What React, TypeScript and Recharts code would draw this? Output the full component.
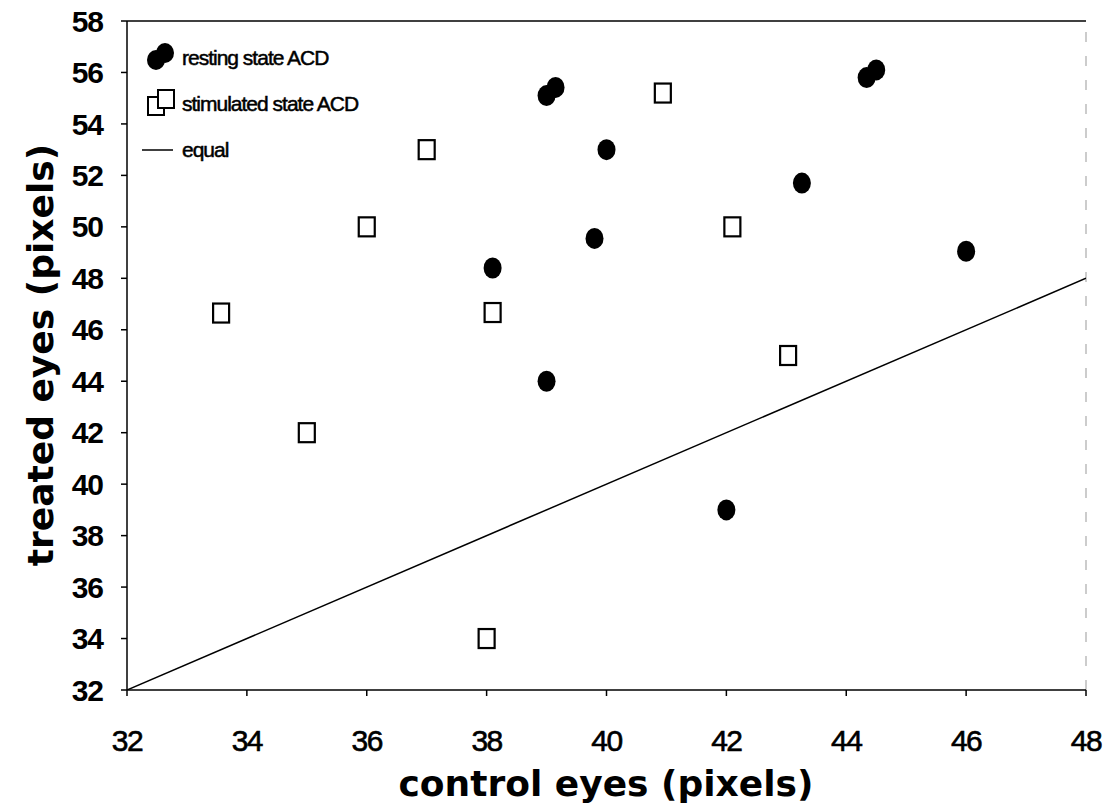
import React from 'react';
import { ScatterChart, Scatter, XAxis, YAxis, ReferenceLine, Legend, Label } from 'recharts';

// control eyes (x) / treated eyes (y), in pixels
const restingX = [39.0, 39.15, 44.34, 44.5, 40.0, 43.26, 39.8, 46.0, 38.1, 39.0, 42.0];
const restingY = [55.1, 55.42, 55.8, 56.1, 53.0, 51.7, 49.55, 49.05, 48.4, 44.0, 39.0];
const stimulatedX = [40.94, 37.0, 36.0, 42.1, 33.57, 38.1, 43.03, 35.0, 38.0];
const stimulatedY = [55.2, 53.0, 50.0, 50.0, 46.65, 46.67, 45.0, 42.0, 34.0];
const equalX = [32, 48];
const equalY = [32, 48];
const xTicks = [32, 34, 36, 38, 40, 42, 44, 46, 48];
const yTicks = [32, 34, 36, 38, 40, 42, 44, 46, 48, 50, 52, 54, 56, 58];
const seriesNames = ['resting state ACD', 'stimulated state ACD', 'equal'];

const restingData = restingX.map((x, i) => ({ x, y: restingY[i] }));
const stimulatedData = stimulatedX.map((x, i) => ({ x, y: stimulatedY[i] }));
const equalData = equalX.map((x, i) => ({ x, y: equalY[i] }));

const FONT = '"Liberation Sans", Arial, Helvetica, sans-serif';
const TITLE_FONT = '"DejaVu Sans", "Liberation Sans", sans-serif';

const Dot = (p: any) => <ellipse cx={p.cx} cy={p.cy} rx={9} ry={10.5} fill="#000" />;
const Box = (p: any) => (
  <rect x={p.cx - 8} y={p.cy - 9.5} width={16} height={19} fill="#fff" stroke="#000" strokeWidth={2.2} />
);
const NoShape = () => null;

const LegendContent = () => {
  const rowH = 46;
  const row = (marker: React.ReactNode, text: string, key: number) => (
    <div key={key} style={{ display: 'flex', alignItems: 'center', height: rowH }}>
      <svg width={44} height={rowH} style={{ display: 'block' }}>{marker}</svg>
      <span
        style={{
          fontFamily: FONT,
          fontSize: 21,
          color: '#000',
          marginLeft: 2,
          letterSpacing: -1,
          WebkitTextStroke: '0.5px #000',
        }}
      >
        {text}
      </span>
    </div>
  );
  const c = rowH / 2;
  return (
    <div>
      {row(
        <g>
          <ellipse cx={20} cy={c + 2} rx={9} ry={10} fill="#000" />
          <ellipse cx={29} cy={c - 5} rx={9} ry={10} fill="#000" />
        </g>,
        seriesNames[0],
        0
      )}
      {row(
        <g>
          <rect x={12} y={c - 7} width={16} height={18} fill="#fff" stroke="#000" strokeWidth={2} />
          <rect x={22} y={c - 14} width={16} height={18} fill="#fff" stroke="#000" strokeWidth={2} />
        </g>,
        seriesNames[1],
        1
      )}
      {row(<line x1={6} x2={37} y1={c} y2={c} stroke="#000" strokeWidth={1.5} />, seriesNames[2], 2)}
    </div>
  );
};

export default function App() {
  return (
    <div style={{ position: 'absolute', left: 0, top: 0, background: '#fff' }}>
      <ScatterChart width={1113} height={812} margin={{ top: 21, right: 27, bottom: 42, left: 67 }}>
        <XAxis
          type="number"
          dataKey="x"
          domain={[32, 48]}
          ticks={xTicks}
          allowDataOverflow
          stroke="#000"
          strokeWidth={1.5}
          tickSize={6}
          tickMargin={34}
          height={80}
          tick={{ fill: '#000', fontFamily: FONT, fontSize: 30, letterSpacing: -1.5, stroke: '#000', strokeWidth: 0.6 }}
        >
          <Label
            content={() => (
              <text x={606} y={796} textAnchor="middle" fontFamily={TITLE_FONT} fontWeight="bold" fontSize={36} fill="#000">
                control eyes (pixels)
              </text>
            )}
          />
        </XAxis>
        <YAxis
          type="number"
          dataKey="y"
          domain={[32, 58]}
          ticks={yTicks}
          allowDataOverflow
          stroke="#000"
          strokeWidth={1.5}
          tickSize={6}
          tickMargin={18}
          width={60}
          tick={{ fill: '#000', fontFamily: FONT, fontSize: 30, fontWeight: 'bold', letterSpacing: -1 }}
        >
          <Label
            content={() => (
              <text
                x={53}
                y={355}
                transform="rotate(-90, 53, 355)"
                textAnchor="middle"
                fontFamily={TITLE_FONT}
                fontWeight="bold"
                fontSize={36}
                fill="#000"
              >
                treated eyes (pixels)
              </text>
            )}
          />
        </YAxis>
        <ReferenceLine y={58} stroke="#000" strokeWidth={1.5} />
        <ReferenceLine x={48} stroke="#999" strokeWidth={1} strokeDasharray="10 14" />
        <Legend
          content={LegendContent}
          layout="vertical"
          verticalAlign="middle"
          align="center"
          wrapperStyle={{ left: 136, top: 35, width: 320 }}
        />
        <Scatter
          name={seriesNames[2]}
          data={equalData}
          line={{ stroke: '#000', strokeWidth: 1.5 }}
          shape={NoShape}
          isAnimationActive={false}
        />
        <Scatter name={seriesNames[0]} data={restingData} shape={Dot} isAnimationActive={false} />
        <Scatter name={seriesNames[1]} data={stimulatedData} shape={Box} isAnimationActive={false} />
      </ScatterChart>
    </div>
  );
}
